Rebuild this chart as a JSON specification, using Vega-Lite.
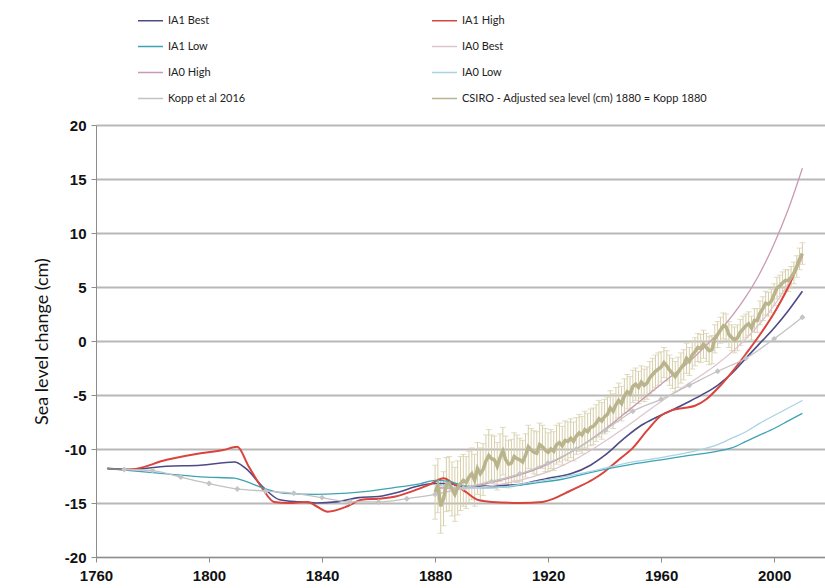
{
  "$schema": "https://vega.github.io/schema/vega-lite/v6.json",
  "autosize": "none",
  "width": 729,
  "height": 432,
  "padding": {"left": 96, "top": 125, "right": 0, "bottom": 31},
  "background": "white",
  "config": {
    "view": {"stroke": null},
    "axis": {
      "labelFont": "Liberation Sans",
      "labelFontWeight": "bold",
      "labelFontSize": 15,
      "labelColor": "#111111",
      "domainColor": "#8c8c8c",
      "tickColor": "#8c8c8c",
      "tickSize": 5
    },
    "legend": {
      "title": null, "orient": "none", "legendX": 41, "legendY": -118, "columns": 2, "direction": "horizontal",
      "columnPadding": 183, "rowPadding": 7, "symbolType": "stroke", "symbolSize": 625, "symbolStrokeWidth": 1.5, "labelLimit": 400,
      "labelFont": "Lato", "labelFontSize": 11, "labelColor": "#222222", "labelOffset": 4
    }
  },
  "datasets": {
    "models": [
      {"s": "IA1 Best", "yr": 1764, "v": -11.8}, {"s": "IA1 Best", "yr": 1772, "v": -11.9}, {"s": "IA1 Best", "yr": 1785, "v": -11.6}, {"s": "IA1 Best", "yr": 1797, "v": -11.5}, {"s": "IA1 Best", "yr": 1809, "v": -11.2}, {"s": "IA1 Best", "yr": 1813, "v": -11.8}, {"s": "IA1 Best", "yr": 1819, "v": -13.5}, {"s": "IA1 Best", "yr": 1825, "v": -14.7}, {"s": "IA1 Best", "yr": 1832, "v": -14.9}, {"s": "IA1 Best", "yr": 1838, "v": -15.0}, {"s": "IA1 Best", "yr": 1845, "v": -14.9}, {"s": "IA1 Best", "yr": 1853, "v": -14.5}, {"s": "IA1 Best", "yr": 1860, "v": -14.4}, {"s": "IA1 Best", "yr": 1867, "v": -14.0}, {"s": "IA1 Best", "yr": 1873, "v": -13.5}, {"s": "IA1 Best", "yr": 1880, "v": -13.2}, {"s": "IA1 Best", "yr": 1885, "v": -13.2}, {"s": "IA1 Best", "yr": 1890, "v": -13.5}, {"s": "IA1 Best", "yr": 1900, "v": -13.4}, {"s": "IA1 Best", "yr": 1910, "v": -13.3}, {"s": "IA1 Best", "yr": 1915, "v": -13.0}, {"s": "IA1 Best", "yr": 1920, "v": -12.7}, {"s": "IA1 Best", "yr": 1928, "v": -12.3}, {"s": "IA1 Best", "yr": 1935, "v": -11.5}, {"s": "IA1 Best", "yr": 1940, "v": -10.6}, {"s": "IA1 Best", "yr": 1947, "v": -9.0}, {"s": "IA1 Best", "yr": 1953, "v": -7.8}, {"s": "IA1 Best", "yr": 1958, "v": -7.1}, {"s": "IA1 Best", "yr": 1963, "v": -6.5}, {"s": "IA1 Best", "yr": 1970, "v": -5.6}, {"s": "IA1 Best", "yr": 1975, "v": -4.9}, {"s": "IA1 Best", "yr": 1980, "v": -4.1}, {"s": "IA1 Best", "yr": 1985, "v": -3.0}, {"s": "IA1 Best", "yr": 1990, "v": -1.6}, {"s": "IA1 Best", "yr": 1995, "v": -0.2}, {"s": "IA1 Best", "yr": 2000, "v": 1.2}, {"s": "IA1 Best", "yr": 2005, "v": 2.8}, {"s": "IA1 Best", "yr": 2010, "v": 4.6},

      {"s": "IA1 High", "yr": 1764, "v": -11.8}, {"s": "IA1 High", "yr": 1772, "v": -11.9}, {"s": "IA1 High", "yr": 1785, "v": -11.0}, {"s": "IA1 High", "yr": 1797, "v": -10.4}, {"s": "IA1 High", "yr": 1805, "v": -10.1}, {"s": "IA1 High", "yr": 1810, "v": -9.8}, {"s": "IA1 High", "yr": 1814, "v": -11.6}, {"s": "IA1 High", "yr": 1819, "v": -13.7}, {"s": "IA1 High", "yr": 1823, "v": -14.9}, {"s": "IA1 High", "yr": 1828, "v": -15.0}, {"s": "IA1 High", "yr": 1835, "v": -14.9}, {"s": "IA1 High", "yr": 1838, "v": -15.3}, {"s": "IA1 High", "yr": 1842, "v": -15.8}, {"s": "IA1 High", "yr": 1849, "v": -15.3}, {"s": "IA1 High", "yr": 1854, "v": -14.7}, {"s": "IA1 High", "yr": 1860, "v": -14.6}, {"s": "IA1 High", "yr": 1866, "v": -14.4}, {"s": "IA1 High", "yr": 1872, "v": -13.9}, {"s": "IA1 High", "yr": 1878, "v": -13.3}, {"s": "IA1 High", "yr": 1883, "v": -12.7}, {"s": "IA1 High", "yr": 1887, "v": -13.3}, {"s": "IA1 High", "yr": 1891, "v": -14.0}, {"s": "IA1 High", "yr": 1895, "v": -14.7}, {"s": "IA1 High", "yr": 1900, "v": -14.9}, {"s": "IA1 High", "yr": 1910, "v": -15.0}, {"s": "IA1 High", "yr": 1918, "v": -14.9}, {"s": "IA1 High", "yr": 1922, "v": -14.6}, {"s": "IA1 High", "yr": 1926, "v": -14.1}, {"s": "IA1 High", "yr": 1930, "v": -13.6}, {"s": "IA1 High", "yr": 1936, "v": -12.8}, {"s": "IA1 High", "yr": 1940, "v": -12.1}, {"s": "IA1 High", "yr": 1945, "v": -11.0}, {"s": "IA1 High", "yr": 1950, "v": -9.9}, {"s": "IA1 High", "yr": 1955, "v": -8.3}, {"s": "IA1 High", "yr": 1960, "v": -6.9}, {"s": "IA1 High", "yr": 1964, "v": -6.4}, {"s": "IA1 High", "yr": 1968, "v": -6.2}, {"s": "IA1 High", "yr": 1972, "v": -6.0}, {"s": "IA1 High", "yr": 1976, "v": -5.4}, {"s": "IA1 High", "yr": 1980, "v": -4.4}, {"s": "IA1 High", "yr": 1985, "v": -2.9}, {"s": "IA1 High", "yr": 1990, "v": -1.2}, {"s": "IA1 High", "yr": 1995, "v": 0.6}, {"s": "IA1 High", "yr": 2000, "v": 2.6}, {"s": "IA1 High", "yr": 2005, "v": 5.0}, {"s": "IA1 High", "yr": 2010, "v": 8.0},

      {"s": "IA1 Low", "yr": 1764, "v": -11.8}, {"s": "IA1 Low", "yr": 1772, "v": -12.0}, {"s": "IA1 Low", "yr": 1785, "v": -12.3}, {"s": "IA1 Low", "yr": 1799, "v": -12.6}, {"s": "IA1 Low", "yr": 1809, "v": -12.7}, {"s": "IA1 Low", "yr": 1813, "v": -13.0}, {"s": "IA1 Low", "yr": 1819, "v": -13.6}, {"s": "IA1 Low", "yr": 1827, "v": -14.1}, {"s": "IA1 Low", "yr": 1838, "v": -14.2}, {"s": "IA1 Low", "yr": 1853, "v": -14.0}, {"s": "IA1 Low", "yr": 1865, "v": -13.6}, {"s": "IA1 Low", "yr": 1875, "v": -13.2}, {"s": "IA1 Low", "yr": 1880, "v": -12.9}, {"s": "IA1 Low", "yr": 1885, "v": -13.0}, {"s": "IA1 Low", "yr": 1890, "v": -13.4}, {"s": "IA1 Low", "yr": 1897, "v": -13.6}, {"s": "IA1 Low", "yr": 1905, "v": -13.5}, {"s": "IA1 Low", "yr": 1914, "v": -13.2}, {"s": "IA1 Low", "yr": 1925, "v": -12.8}, {"s": "IA1 Low", "yr": 1938, "v": -12.0}, {"s": "IA1 Low", "yr": 1950, "v": -11.4}, {"s": "IA1 Low", "yr": 1960, "v": -11.0}, {"s": "IA1 Low", "yr": 1970, "v": -10.6}, {"s": "IA1 Low", "yr": 1980, "v": -10.2}, {"s": "IA1 Low", "yr": 1985, "v": -9.9}, {"s": "IA1 Low", "yr": 1990, "v": -9.3}, {"s": "IA1 Low", "yr": 1995, "v": -8.7}, {"s": "IA1 Low", "yr": 2000, "v": -8.1}, {"s": "IA1 Low", "yr": 2005, "v": -7.4}, {"s": "IA1 Low", "yr": 2010, "v": -6.7},

      {"s": "IA0 Best", "yr": 1880, "v": -13.6}, {"s": "IA0 Best", "yr": 1890, "v": -13.7}, {"s": "IA0 Best", "yr": 1900, "v": -13.4}, {"s": "IA0 Best", "yr": 1910, "v": -12.9}, {"s": "IA0 Best", "yr": 1920, "v": -12.1}, {"s": "IA0 Best", "yr": 1930, "v": -10.9}, {"s": "IA0 Best", "yr": 1940, "v": -9.3}, {"s": "IA0 Best", "yr": 1950, "v": -7.5}, {"s": "IA0 Best", "yr": 1960, "v": -5.6}, {"s": "IA0 Best", "yr": 1970, "v": -3.9}, {"s": "IA0 Best", "yr": 1980, "v": -2.1}, {"s": "IA0 Best", "yr": 1990, "v": 0.2}, {"s": "IA0 Best", "yr": 2000, "v": 3.3}, {"s": "IA0 Best", "yr": 2005, "v": 5.3}, {"s": "IA0 Best", "yr": 2010, "v": 7.6},

      {"s": "IA0 High", "yr": 1880, "v": -13.6}, {"s": "IA0 High", "yr": 1890, "v": -13.6}, {"s": "IA0 High", "yr": 1900, "v": -13.1}, {"s": "IA0 High", "yr": 1910, "v": -12.4}, {"s": "IA0 High", "yr": 1920, "v": -11.4}, {"s": "IA0 High", "yr": 1930, "v": -10.0}, {"s": "IA0 High", "yr": 1940, "v": -8.2}, {"s": "IA0 High", "yr": 1950, "v": -6.1}, {"s": "IA0 High", "yr": 1960, "v": -4.0}, {"s": "IA0 High", "yr": 1970, "v": -1.9}, {"s": "IA0 High", "yr": 1980, "v": 0.7}, {"s": "IA0 High", "yr": 1990, "v": 4.1}, {"s": "IA0 High", "yr": 1995, "v": 6.3}, {"s": "IA0 High", "yr": 2000, "v": 9.0}, {"s": "IA0 High", "yr": 2005, "v": 12.2}, {"s": "IA0 High", "yr": 2010, "v": 16.0},

      {"s": "IA0 Low", "yr": 1880, "v": -13.3}, {"s": "IA0 Low", "yr": 1890, "v": -13.6}, {"s": "IA0 Low", "yr": 1900, "v": -13.6}, {"s": "IA0 Low", "yr": 1914, "v": -13.1}, {"s": "IA0 Low", "yr": 1925, "v": -12.6}, {"s": "IA0 Low", "yr": 1938, "v": -11.9}, {"s": "IA0 Low", "yr": 1950, "v": -11.2}, {"s": "IA0 Low", "yr": 1960, "v": -10.8}, {"s": "IA0 Low", "yr": 1970, "v": -10.3}, {"s": "IA0 Low", "yr": 1980, "v": -9.6}, {"s": "IA0 Low", "yr": 1985, "v": -9.0}, {"s": "IA0 Low", "yr": 1990, "v": -8.4}, {"s": "IA0 Low", "yr": 1995, "v": -7.6}, {"s": "IA0 Low", "yr": 2000, "v": -6.9}, {"s": "IA0 Low", "yr": 2005, "v": -6.2}, {"s": "IA0 Low", "yr": 2010, "v": -5.5},

      {"s": "Kopp et al 2016", "yr": 1770, "v": -11.9}, {"s": "Kopp et al 2016", "yr": 1780, "v": -12.0}, {"s": "Kopp et al 2016", "yr": 1790, "v": -12.6}, {"s": "Kopp et al 2016", "yr": 1800, "v": -13.2}, {"s": "Kopp et al 2016", "yr": 1810, "v": -13.7}, {"s": "Kopp et al 2016", "yr": 1820, "v": -13.9}, {"s": "Kopp et al 2016", "yr": 1830, "v": -14.1}, {"s": "Kopp et al 2016", "yr": 1840, "v": -14.5}, {"s": "Kopp et al 2016", "yr": 1850, "v": -14.9}, {"s": "Kopp et al 2016", "yr": 1860, "v": -14.9}, {"s": "Kopp et al 2016", "yr": 1870, "v": -14.6}, {"s": "Kopp et al 2016", "yr": 1880, "v": -14.2}, {"s": "Kopp et al 2016", "yr": 1890, "v": -13.6}, {"s": "Kopp et al 2016", "yr": 1900, "v": -13.0}, {"s": "Kopp et al 2016", "yr": 1910, "v": -12.3}, {"s": "Kopp et al 2016", "yr": 1920, "v": -11.3}, {"s": "Kopp et al 2016", "yr": 1930, "v": -10.0}, {"s": "Kopp et al 2016", "yr": 1940, "v": -8.3}, {"s": "Kopp et al 2016", "yr": 1950, "v": -6.5}, {"s": "Kopp et al 2016", "yr": 1960, "v": -5.4}, {"s": "Kopp et al 2016", "yr": 1970, "v": -4.1}, {"s": "Kopp et al 2016", "yr": 1980, "v": -2.8}, {"s": "Kopp et al 2016", "yr": 1990, "v": -1.6}, {"s": "Kopp et al 2016", "yr": 2000, "v": 0.2}, {"s": "Kopp et al 2016", "yr": 2010, "v": 2.2}
    ],
    "csiro": [
      {"yr": 1880, "v": -14.0, "e": 2.5}, {"yr": 1881, "v": -13.4, "e": 2.5}, {"yr": 1882, "v": -15.3, "e": 2.5}, {"yr": 1883, "v": -14.6, "e": 2.5}, {"yr": 1884, "v": -13.3, "e": 2.5}, {"yr": 1885, "v": -13.2, "e": 2.5}, {"yr": 1886, "v": -13.7, "e": 2.5}, {"yr": 1887, "v": -14.2, "e": 2.5}, {"yr": 1888, "v": -13.6, "e": 2.5}, {"yr": 1889, "v": -13.2, "e": 2.5},
      {"yr": 1890, "v": -12.9, "e": 2.4}, {"yr": 1891, "v": -13.1, "e": 2.4}, {"yr": 1892, "v": -12.6, "e": 2.4}, {"yr": 1893, "v": -12.3, "e": 2.4}, {"yr": 1894, "v": -12.9, "e": 2.4}, {"yr": 1895, "v": -11.8, "e": 2.4}, {"yr": 1896, "v": -12.3, "e": 2.4}, {"yr": 1897, "v": -11.9, "e": 2.4}, {"yr": 1898, "v": -11.1, "e": 2.4}, {"yr": 1899, "v": -10.6, "e": 2.4},
      {"yr": 1900, "v": -10.9, "e": 2.2}, {"yr": 1901, "v": -11.0, "e": 2.2}, {"yr": 1902, "v": -11.6, "e": 2.2}, {"yr": 1903, "v": -10.8, "e": 2.2}, {"yr": 1904, "v": -10.2, "e": 2.2}, {"yr": 1905, "v": -11.0, "e": 2.2}, {"yr": 1906, "v": -11.4, "e": 2.2}, {"yr": 1907, "v": -11.3, "e": 2.2}, {"yr": 1908, "v": -10.7, "e": 2.2}, {"yr": 1909, "v": -10.9, "e": 2.2},
      {"yr": 1910, "v": -11.0, "e": 2.0}, {"yr": 1911, "v": -11.2, "e": 2.0}, {"yr": 1912, "v": -10.6, "e": 2.0}, {"yr": 1913, "v": -9.8, "e": 2.0}, {"yr": 1914, "v": -10.1, "e": 2.0}, {"yr": 1915, "v": -10.3, "e": 2.0}, {"yr": 1916, "v": -10.4, "e": 2.0}, {"yr": 1917, "v": -9.6, "e": 2.0}, {"yr": 1918, "v": -9.8, "e": 2.0}, {"yr": 1919, "v": -10.1, "e": 2.0},
      {"yr": 1920, "v": -10.3, "e": 1.8}, {"yr": 1921, "v": -10.0, "e": 1.8}, {"yr": 1922, "v": -10.2, "e": 1.8}, {"yr": 1923, "v": -9.6, "e": 1.8}, {"yr": 1924, "v": -9.4, "e": 1.8}, {"yr": 1925, "v": -9.7, "e": 1.8}, {"yr": 1926, "v": -9.2, "e": 1.8}, {"yr": 1927, "v": -9.3, "e": 1.8}, {"yr": 1928, "v": -9.0, "e": 1.8}, {"yr": 1929, "v": -9.3, "e": 1.8},
      {"yr": 1930, "v": -8.8, "e": 1.7}, {"yr": 1931, "v": -8.5, "e": 1.7}, {"yr": 1932, "v": -8.7, "e": 1.7}, {"yr": 1933, "v": -8.2, "e": 1.7}, {"yr": 1934, "v": -8.4, "e": 1.7}, {"yr": 1935, "v": -8.0, "e": 1.7}, {"yr": 1936, "v": -7.9, "e": 1.7}, {"yr": 1937, "v": -7.6, "e": 1.7}, {"yr": 1938, "v": -7.2, "e": 1.7}, {"yr": 1939, "v": -7.4, "e": 1.7},
      {"yr": 1940, "v": -7.0, "e": 1.6}, {"yr": 1941, "v": -6.8, "e": 1.6}, {"yr": 1942, "v": -6.2, "e": 1.6}, {"yr": 1943, "v": -6.5, "e": 1.6}, {"yr": 1944, "v": -5.9, "e": 1.6}, {"yr": 1945, "v": -5.5, "e": 1.6}, {"yr": 1946, "v": -5.8, "e": 1.6}, {"yr": 1947, "v": -5.1, "e": 1.6}, {"yr": 1948, "v": -4.7, "e": 1.6}, {"yr": 1949, "v": -4.9, "e": 1.6},
      {"yr": 1950, "v": -4.2, "e": 1.5}, {"yr": 1951, "v": -4.0, "e": 1.5}, {"yr": 1952, "v": -4.3, "e": 1.5}, {"yr": 1953, "v": -3.8, "e": 1.5}, {"yr": 1954, "v": -4.1, "e": 1.5}, {"yr": 1955, "v": -3.9, "e": 1.5}, {"yr": 1956, "v": -3.4, "e": 1.5}, {"yr": 1957, "v": -3.1, "e": 1.5}, {"yr": 1958, "v": -2.8, "e": 1.5}, {"yr": 1959, "v": -2.6, "e": 1.5},
      {"yr": 1960, "v": -2.4, "e": 1.4}, {"yr": 1961, "v": -2.0, "e": 1.4}, {"yr": 1962, "v": -2.3, "e": 1.4}, {"yr": 1963, "v": -2.7, "e": 1.4}, {"yr": 1964, "v": -3.0, "e": 1.4}, {"yr": 1965, "v": -3.3, "e": 1.4}, {"yr": 1966, "v": -2.9, "e": 1.4}, {"yr": 1967, "v": -2.5, "e": 1.4}, {"yr": 1968, "v": -2.2, "e": 1.4}, {"yr": 1969, "v": -1.6, "e": 1.4},
      {"yr": 1970, "v": -1.9, "e": 1.3}, {"yr": 1971, "v": -1.3, "e": 1.3}, {"yr": 1972, "v": -1.0, "e": 1.3}, {"yr": 1973, "v": -0.6, "e": 1.3}, {"yr": 1974, "v": -0.7, "e": 1.3}, {"yr": 1975, "v": -0.3, "e": 1.3}, {"yr": 1976, "v": -0.6, "e": 1.3}, {"yr": 1977, "v": -0.9, "e": 1.3}, {"yr": 1978, "v": -0.8, "e": 1.3}, {"yr": 1979, "v": 0.2, "e": 1.3},
      {"yr": 1980, "v": 0.6, "e": 1.2}, {"yr": 1981, "v": 1.0, "e": 1.2}, {"yr": 1982, "v": 1.4, "e": 1.2}, {"yr": 1983, "v": 1.3, "e": 1.2}, {"yr": 1984, "v": 0.6, "e": 1.2}, {"yr": 1985, "v": 0.3, "e": 1.2}, {"yr": 1986, "v": 0.1, "e": 1.2}, {"yr": 1987, "v": 0.3, "e": 1.2}, {"yr": 1988, "v": 0.8, "e": 1.2}, {"yr": 1989, "v": 1.1, "e": 1.2},
      {"yr": 1990, "v": 1.4, "e": 1.1}, {"yr": 1991, "v": 1.6, "e": 1.1}, {"yr": 1992, "v": 1.2, "e": 1.1}, {"yr": 1993, "v": 1.9, "e": 1.1}, {"yr": 1994, "v": 1.9, "e": 1.1}, {"yr": 1995, "v": 2.6, "e": 1.1}, {"yr": 1996, "v": 3.0, "e": 1.1}, {"yr": 1997, "v": 3.5, "e": 1.1}, {"yr": 1998, "v": 3.4, "e": 1.1}, {"yr": 1999, "v": 3.7, "e": 1.1},
      {"yr": 2000, "v": 4.3, "e": 1.0}, {"yr": 2001, "v": 4.9, "e": 1.0}, {"yr": 2002, "v": 5.1, "e": 1.0}, {"yr": 2003, "v": 5.4, "e": 1.0}, {"yr": 2004, "v": 5.6, "e": 1.0}, {"yr": 2005, "v": 5.6, "e": 1.0}, {"yr": 2006, "v": 5.9, "e": 1.0}, {"yr": 2007, "v": 6.3, "e": 1.0}, {"yr": 2008, "v": 6.9, "e": 1.0}, {"yr": 2009, "v": 7.6, "e": 1.0}, {"yr": 2010, "v": 8.1, "e": 1.0}
    ]
  },
  "encoding": {
    "x": {
      "field": "yr", "type": "quantitative",
      "scale": {"domain": [1760, 2018], "nice": false, "zero": false},
      "axis": {"values": [1760, 1800, 1840, 1880, 1920, 1960, 2000], "format": "d", "title": null, "grid": false, "labelPadding": 6, "labelFlush": false}
    },
    "y": {
      "field": "v", "type": "quantitative",
      "scale": {"domain": [-20, 20], "nice": false, "zero": false},
      "axis": {
        "values": [-20, -15, -10, -5, 0, 5, 10, 15, 20],
        "labelExpr": "replace(datum.label, '\u2212', '-')",
        "title": "Sea level change (cm)",
        "titleFont": "Lato", "titleFontSize": 18, "titleFontWeight": "normal", "titleColor": "#111111", "titlePadding": 13,
        "grid": true, "gridColor": "#b8b8b8", "gridWidth": 2,
        "labelPadding": 5
      }
    }
  },
  "layer": [
    {
      "data": {"name": "csiro"},
      "mark": {"type": "errorbar", "ticks": {"size": 6}, "color": "#d6cea8", "thickness": 1},
      "encoding": {
        "yError": {"field": "e"}
      }
    },
    {
      "data": {"name": "models"},
      "mark": {"type": "line", "interpolate": "monotone"},
      "encoding": {
        "color": {
          "field": "s", "type": "nominal",
          "scale": {
            "domain": ["IA1 Best", "IA1 High", "IA1 Low", "IA0 Best", "IA0 High", "IA0 Low", "Kopp et al 2016", "CSIRO - Adjusted sea level (cm) 1880 = Kopp 1880"],
            "range": ["#4d4a86", "#d9443c", "#3ea3b3", "#dcc4d0", "#c99ab3", "#a9d3e3", "#c2c2c2", "#b9b48c"]
          }
        },
        "strokeWidth": {
          "field": "s", "type": "nominal", "legend": null,
          "scale": {
            "type": "ordinal",
            "domain": ["IA1 Best", "IA1 High", "IA1 Low", "IA0 Best", "IA0 High", "IA0 Low", "Kopp et al 2016"],
            "range": [1.6, 2, 1.3, 1.3, 1.3, 1.3, 1.3]
          }
        }
      }
    },
    {
      "data": {"name": "csiro"},
      "mark": {"type": "line", "strokeWidth": 3.5},
      "encoding": {
        "color": {"datum": "CSIRO - Adjusted sea level (cm) 1880 = Kopp 1880"}
      }
    },
    {
      "data": {"name": "models"},
      "transform": [{"filter": "datum.s === 'Kopp et al 2016'"}],
      "mark": {"type": "point", "shape": "diamond", "filled": true, "size": 35, "color": "#c4c4c4", "opacity": 1}
    }
  ]
}
